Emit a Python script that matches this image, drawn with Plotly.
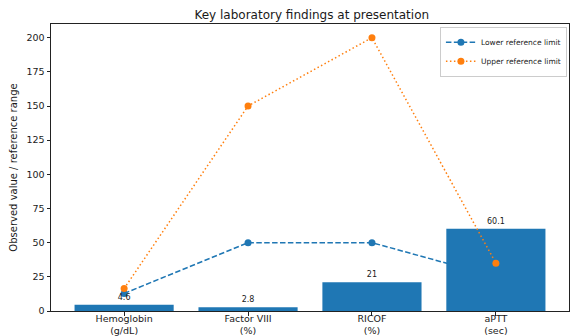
import plotly.graph_objects as go

categories = ["Hemoglobin<br>(g/dL)", "Factor VIII<br>(%)", "RICOF<br>(%)", "aPTT<br>(sec)"]
observed = [4.6, 2.8, 21, 60.1]
observed_labels = ["4.6", "2.8", "21", "60.1"]
lower_ref = [12.8, 50, 50, 25]
upper_ref = [16.4, 150, 200, 35]

BLUE = "#1f77b4"
ORANGE = "#ff7f0e"
FONT = "DejaVu Sans"
TXT = "#1a1a1a"

fig = go.Figure()

fig.add_trace(go.Scatter(
    x=categories, y=lower_ref, mode="lines+markers", name="Lower reference limit",
    line=dict(color=BLUE, width=1.5, dash="5.5px,2.4px"),
    marker=dict(color=BLUE, size=7), xaxis="x", yaxis="y", cliponaxis=False,
))
fig.add_trace(go.Bar(
    x=categories, y=observed, text=observed_labels, textposition="outside",
    textfont=dict(family=FONT, size=8, color=TXT),
    marker=dict(color=BLUE, line=dict(width=0)), width=0.8,
    showlegend=False, xaxis="x", yaxis="y2", cliponaxis=False,
))
fig.add_trace(go.Scatter(
    x=categories, y=upper_ref, mode="lines+markers", name="Upper reference limit",
    line=dict(color=ORANGE, width=1.5, dash="1.5px,2.5px"),
    marker=dict(color=ORANGE, size=7), xaxis="x", yaxis="y3", cliponaxis=False,
))

yr = [0, 210]
axis_common = dict(range=yr, showgrid=False, zeroline=False, automargin=False)

fig.update_layout(
    width=570, height=336,
    margin=dict(l=51, r=1, t=24, b=25, autoexpand=False),
    paper_bgcolor="white", plot_bgcolor="white",
    font=dict(family=FONT, size=10, color=TXT),
    title=dict(text="Key laboratory findings at presentation", x=0.547, xanchor="center",
               y=0.955, yanchor="middle", font=dict(family=FONT, size=12, color=TXT)),
    showlegend=True,
    legend=dict(x=0.996, y=0.99, xanchor="right", yanchor="top",
                bgcolor="rgba(255,255,255,0.8)", bordercolor="#cccccc", borderwidth=1,
                font=dict(family=FONT, size=7.5, color=TXT), tracegroupgap=0,
                itemwidth=30),
    bargap=0.2,
    xaxis=dict(type="category", range=[-0.59, 3.59], showgrid=False, zeroline=False,
               automargin=False,
               showline=True, linecolor="#222", linewidth=1, mirror=True,
               ticks="outside", ticklen=3.5, tickcolor="#222", ticklabelstandoff=-5,
               tickfont=dict(family=FONT, size=9.5, color=TXT)),
    yaxis=dict(**axis_common, tickvals=[0, 25, 50, 75, 100, 125, 150, 175, 200],
               showline=True, linecolor="#222", linewidth=1, mirror=True,
               ticks="outside", ticklen=3.5, tickcolor="#222",
               tickfont=dict(family=FONT, size=9.5, color=TXT),
               title=dict(text="Observed value / reference range", standoff=6,
                          font=dict(family=FONT, size=10, color=TXT))),
    yaxis2=dict(**axis_common, overlaying="y", visible=False),
    yaxis3=dict(**axis_common, overlaying="y", visible=False),
)

fig.write_html("out.html", config={"displayModeBar": False},
               post_script="document.body.style.margin='0';")
